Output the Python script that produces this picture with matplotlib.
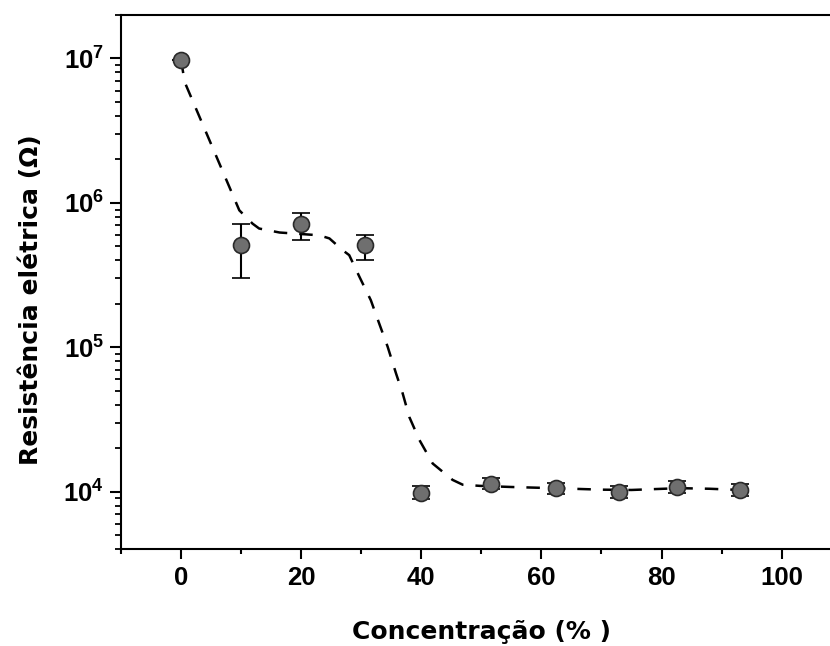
import numpy as np
import matplotlib
matplotlib.use("Agg")
import matplotlib.pyplot as plt
from matplotlib.ticker import FuncFormatter, MultipleLocator, FixedLocator, LogLocator, NullFormatter

# ---- data ----
conc = [0, 10, 20, 30.6, 40, 51.6, 62.4, 73, 82.6, 93]
resist = [9.8e6, 5.1e5, 7.1e5, 5.1e5, 9.8e3, 1.14e4, 1.06e4, 1.0e4, 1.08e4, 1.03e4]
err_low = [0, 2.1e5, 1.6e5, 1.1e5, 0.9e3, 1.0e3, 1.0e3, 1.0e3, 1.0e3, 1.0e3]
err_high = [0, 2.0e5, 1.4e5, 0.9e5, 1.1e3, 1.0e3, 1.0e3, 1.0e3, 1.0e3, 1.0e3]

# dashed guide curve
fit_x = [0, 0.6, 9.7, 11.9, 13.0, 16.4, 23.0, 24.7, 26.9, 28.0, 29.7, 31.6, 33.0,
         34.4, 35.8, 36.9, 38.0, 39.7, 41.9, 45.2, 46.9, 49.7, 55, 62, 70, 75, 83, 88, 93]
fit_y = [9.8e6, 6.87e6, 8.89e5, 7.19e5, 6.65e5, 6.24e5, 5.97e5, 5.68e5, 4.71e5, 4.35e5,
         3.08e5, 2.12e5, 1.46e5, 1.01e5, 6.59e4, 4.80e4, 3.30e4, 2.28e4, 1.57e4, 1.21e4,
         1.12e4, 1.10e4, 1.08e4, 1.06e4, 1.035e4, 1.03e4, 1.06e4, 1.05e4, 1.03e4]

x_ticks = [0, 20, 40, 60, 80, 100]
x_label = "Concentração (% )"
y_label = "Resistência elétrica (Ω)"

plt.rcParams['font.family'] = ['Liberation Sans', 'DejaVu Sans']
plt.rcParams['mathtext.fontset'] = 'custom'
plt.rcParams['mathtext.rm'] = 'Liberation Sans:bold'
plt.rcParams['mathtext.bf'] = 'Liberation Sans:bold'
plt.rcParams['mathtext.it'] = 'Liberation Sans:bold'

fig = plt.figure(figsize=(8.30, 6.46), dpi=100)
ax = fig.add_axes([0.14578, 0.14969, 0.86831, 0.82709])

ax.plot(fit_x, fit_y, color='black', lw=1.8, linestyle=(0, (5.4, 4.8)), zorder=2)
ax.errorbar(conc, resist, yerr=[err_low, err_high], fmt='o', ms=11.5,
            mfc='#6f6f6f', mec='#2a2a2a', mew=1.2, ecolor='black',
            elinewidth=1.5, capsize=6.2, capthick=1.5, zorder=3)

ax.set_yscale('log')
ax.set_xlim(-10, 110)
ax.set_ylim(4e3, 2e7)

ax.xaxis.set_major_locator(FixedLocator(x_ticks))
ax.xaxis.set_minor_locator(MultipleLocator(10))
ax.yaxis.set_major_locator(LogLocator(base=10))
ax.yaxis.set_minor_locator(LogLocator(base=10, subs=np.arange(2, 10)))
ax.yaxis.set_minor_formatter(NullFormatter())
ax.yaxis.set_major_formatter(FuncFormatter(lambda v, p: r'$\mathbf{10^{%d}}$' % round(np.log10(v))))

for lab in ax.get_xticklabels():
    lab.set_fontweight('bold')
ax.tick_params(axis='x', which='major', length=7.2, width=1.5, labelsize=18.5, pad=5, direction='out')
ax.tick_params(axis='x', which='minor', length=3.6, width=1.5, direction='out')
ax.tick_params(axis='y', which='major', length=7.7, width=1.5, labelsize=18.5, pad=4.5, direction='out')
ax.tick_params(axis='y', which='minor', length=4.3, width=1.3, direction='out')
ax.tick_params(top=False, right=False, which='both')
for lab in ax.get_xticklabels():
    lab.set_fontweight('bold')

for s in ['left', 'bottom', 'top']:
    ax.spines[s].set_linewidth(1.5)
ax.spines['right'].set_visible(False)

ax.set_xlabel(x_label, fontsize=18, fontweight='bold', family='DejaVu Sans')
ax.xaxis.label.set_va('center')
ax.xaxis.set_label_coords(0.5, -0.1557)
ax.set_ylabel(y_label, fontsize=18, fontweight='bold', family='DejaVu Sans')
ax.yaxis.label.set_va('center')
ax.yaxis.set_label_coords(-0.1249, 0.4666)

fig.savefig('out.png', dpi=100)
